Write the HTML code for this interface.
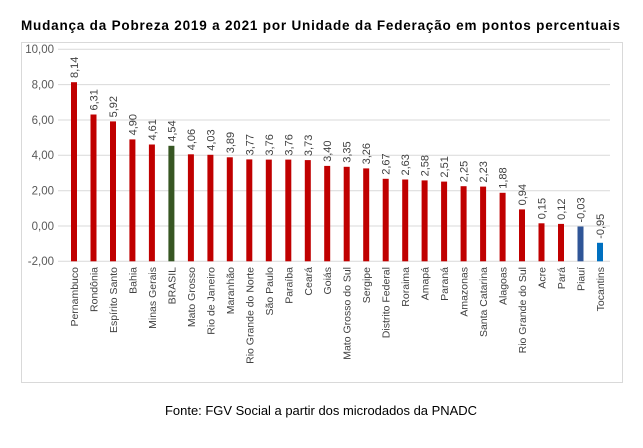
<!DOCTYPE html>
<html><head><meta charset="utf-8"><style>
html,body{margin:0;padding:0;background:#fff;}
svg{display:block;font-family:"Liberation Sans",sans-serif;}
</style></head><body>
<svg width="643" height="448" viewBox="0 0 643 448" xmlns="http://www.w3.org/2000/svg">
<text x="21" y="30" font-size="13.5" font-weight="bold" fill="#000" textLength="599" lengthAdjust="spacing">Mudança da Pobreza 2019 a 2021 por Unidade da Federação em pontos percentuais</text>
<rect x="21.5" y="42.5" width="601" height="340" fill="#fff" stroke="#d9d9d9"/>
<g stroke="#d9d9d9" stroke-width="1">
<line x1="58" x2="610" y1="49.3" y2="49.3"/>
<line x1="58" x2="610" y1="84.6" y2="84.6"/>
<line x1="58" x2="610" y1="120" y2="120"/>
<line x1="58" x2="610" y1="155.3" y2="155.3"/>
<line x1="58" x2="610" y1="190.7" y2="190.7"/>
<line x1="58" x2="610" y1="226" y2="226"/>
<line x1="58" x2="610" y1="261.3" y2="261.3"/>
</g>
<g font-size="11.5" fill="#595959" text-anchor="end">
<text x="54" y="53">10,00</text><text x="54" y="88.5">8,00</text><text x="54" y="124">6,00</text><text x="54" y="159">4,00</text><text x="54" y="194.5">2,00</text><text x="54" y="230">0,00</text><text x="54" y="265">-2,00</text>
</g>
<g fill="#c00000">
<rect x="71" y="82.2" width="6" height="179.1"/>
<rect x="90.5" y="114.5" width="6" height="146.8"/>
<rect x="110" y="121.4" width="6" height="139.9"/>
<rect x="129.4" y="139.4" width="6" height="121.9"/>
<rect x="148.9" y="144.5" width="6" height="116.8"/>
<rect x="187.9" y="154.3" width="6" height="107"/>
<rect x="207.4" y="154.8" width="6" height="106.5"/>
<rect x="226.8" y="157.3" width="6" height="104"/>
<rect x="246.3" y="159.4" width="6" height="101.9"/>
<rect x="265.8" y="159.6" width="6" height="101.7"/>
<rect x="285.3" y="159.6" width="6" height="101.7"/>
<rect x="304.8" y="160.1" width="6" height="101.2"/>
<rect x="324.2" y="165.9" width="6" height="95.4"/>
<rect x="343.7" y="166.8" width="6" height="94.5"/>
<rect x="363.2" y="168.4" width="6" height="92.9"/>
<rect x="382.7" y="178.8" width="6" height="82.5"/>
<rect x="402.2" y="179.5" width="6" height="81.8"/>
<rect x="421.6" y="180.4" width="6" height="80.9"/>
<rect x="441.1" y="181.6" width="6" height="79.7"/>
<rect x="460.6" y="186.2" width="6" height="75.1"/>
<rect x="480.1" y="186.6" width="6" height="74.7"/>
<rect x="499.6" y="192.8" width="6" height="68.5"/>
<rect x="519" y="209.4" width="6" height="51.9"/>
<rect x="538.5" y="223.3" width="6" height="38"/>
<rect x="558" y="223.9" width="6" height="37.4"/>
</g>
<rect x="168.4" y="145.8" width="6" height="115.5" fill="#375623"/>
<rect x="577.5" y="226.5" width="6" height="34.8" fill="#2f5597"/>
<rect x="597" y="242.8" width="6" height="18.5" fill="#0070c0"/>
<g font-size="11" fill="#404040">
<text transform="translate(78,78) rotate(-90)">8,14</text>
<text transform="translate(97.5,110.5) rotate(-90)">6,31</text>
<text transform="translate(117,117.4) rotate(-90)">5,92</text>
<text transform="translate(136.4,135.4) rotate(-90)">4,90</text>
<text transform="translate(155.9,140.5) rotate(-90)">4,61</text>
<text transform="translate(175.4,141.8) rotate(-90)">4,54</text>
<text transform="translate(194.9,150.3) rotate(-90)">4,06</text>
<text transform="translate(214.4,150.8) rotate(-90)">4,03</text>
<text transform="translate(233.8,153.3) rotate(-90)">3,89</text>
<text transform="translate(253.3,155.4) rotate(-90)">3,77</text>
<text transform="translate(272.8,155.6) rotate(-90)">3,76</text>
<text transform="translate(292.3,155.6) rotate(-90)">3,76</text>
<text transform="translate(311.8,156.1) rotate(-90)">3,73</text>
<text transform="translate(331.2,161.9) rotate(-90)">3,40</text>
<text transform="translate(350.7,162.8) rotate(-90)">3,35</text>
<text transform="translate(370.2,164.4) rotate(-90)">3,26</text>
<text transform="translate(389.7,174.8) rotate(-90)">2,67</text>
<text transform="translate(409.2,175.5) rotate(-90)">2,63</text>
<text transform="translate(428.6,176.4) rotate(-90)">2,58</text>
<text transform="translate(448.1,177.6) rotate(-90)">2,51</text>
<text transform="translate(467.6,182.2) rotate(-90)">2,25</text>
<text transform="translate(487.1,182.6) rotate(-90)">2,23</text>
<text transform="translate(506.6,188.8) rotate(-90)">1,88</text>
<text transform="translate(526,205.4) rotate(-90)">0,94</text>
<text transform="translate(545.5,219.3) rotate(-90)">0,15</text>
<text transform="translate(565,219.9) rotate(-90)">0,12</text>
<text transform="translate(584.5,222.5) rotate(-90)">-0,03</text>
<text transform="translate(604,238.8) rotate(-90)">-0,95</text>
</g>
<g font-size="10.5" fill="#404040" text-anchor="end">
<text transform="translate(78,267) rotate(-90)">Pernambuco</text>
<text transform="translate(97.5,267) rotate(-90)">Rondônia</text>
<text transform="translate(117,267) rotate(-90)">Espírito Santo</text>
<text transform="translate(136.4,267) rotate(-90)">Bahia</text>
<text transform="translate(155.9,267) rotate(-90)">Minas Gerais</text>
<text transform="translate(175.4,267) rotate(-90)">BRASIL</text>
<text transform="translate(194.9,267) rotate(-90)">Mato Grosso</text>
<text transform="translate(214.4,267) rotate(-90)">Rio de Janeiro</text>
<text transform="translate(233.8,267) rotate(-90)">Maranhão</text>
<text transform="translate(253.3,267) rotate(-90)">Rio Grande do Norte</text>
<text transform="translate(272.8,267) rotate(-90)">São Paulo</text>
<text transform="translate(292.3,267) rotate(-90)">Paraíba</text>
<text transform="translate(311.8,267) rotate(-90)">Ceará</text>
<text transform="translate(331.2,267) rotate(-90)">Goiás</text>
<text transform="translate(350.7,267) rotate(-90)">Mato Grosso do Sul</text>
<text transform="translate(370.2,267) rotate(-90)">Sergipe</text>
<text transform="translate(389.7,267) rotate(-90)">Distrito Federal</text>
<text transform="translate(409.2,267) rotate(-90)">Roraima</text>
<text transform="translate(428.6,267) rotate(-90)">Amapá</text>
<text transform="translate(448.1,267) rotate(-90)">Paraná</text>
<text transform="translate(467.6,267) rotate(-90)">Amazonas</text>
<text transform="translate(487.1,267) rotate(-90)">Santa Catarina</text>
<text transform="translate(506.6,267) rotate(-90)">Alagoas</text>
<text transform="translate(526,267) rotate(-90)">Rio Grande do Sul</text>
<text transform="translate(545.5,267) rotate(-90)">Acre</text>
<text transform="translate(565,267) rotate(-90)">Pará</text>
<text transform="translate(584.5,267) rotate(-90)">Piauí</text>
<text transform="translate(604,267) rotate(-90)">Tocantins</text>
</g>
<text x="165" y="415" font-size="12.5" fill="#000" textLength="312" lengthAdjust="spacingAndGlyphs">Fonte: FGV Social a partir dos microdados da PNADC</text>
</svg>
</body></html>
